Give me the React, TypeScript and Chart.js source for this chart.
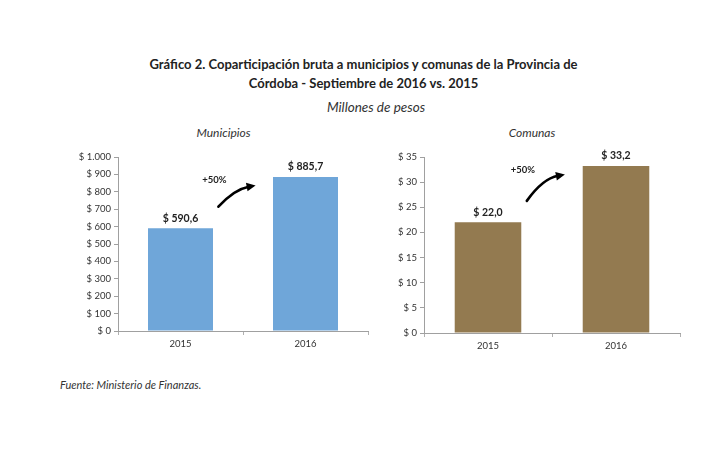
import React, { useEffect, useRef } from "react";
import { Chart, registerables } from "chart.js";

Chart.register(...registerables);

const categories = ["2015", "2016"];
const municipiosValues = [590.6, 885.7];
const comunasValues = [22.0, 33.2];
const municipiosMax = 1000;
const municipiosStep = 100;
const comunasMax = 35;
const comunasStep = 5;
const growthLabel = "+50%";
const titleLine1 = "Gráfico 2. Coparticipación bruta a municipios y comunas de la Provincia de";
const titleLine2 = "Córdoba - Septiembre de 2016 vs. 2015";
const subtitle = "Millones de pesos";
const municipiosTitle = "Municipios";
const comunasTitle = "Comunas";
const source = "Fuente: Ministerio de Finanzas.";

const FONT = "Lato, 'Open Sans', sans-serif";

function fmtThousands(n: number): string {
  const s = Math.round(n).toString();
  return s.replace(/\B(?=(\d{3})+(?!\d))/g, ".");
}
function fmtValue(n: number): string {
  return "$ " + n.toFixed(1).replace(".", ",");
}

const annotPlugin = {
  id: "annot",
  afterDatasetsDraw(chart: any) {
    const ctx = chart.ctx;
    const meta = chart.getDatasetMeta(0);
    const data = chart.data.datasets[0].data as number[];
    ctx.save();
    ctx.fillStyle = "#222";
    ctx.font = `bold 10.5px ${FONT}`;
    ctx.textAlign = "center";
    ctx.textBaseline = "middle";
    meta.data.forEach((bar: any, i: number) => {
      ctx.fillText(fmtValue(data[i]), bar.x, bar.y - 10);
    });
    const b1 = meta.data[0];
    const b2 = meta.data[1];
    const r1 = b1.x + b1.width / 2;
    const l2 = b2.x - b2.width / 2;
    const gap = l2 - r1;
    const sx = r1 + gap * 0.09;
    const sy = b1.y - 21.5;
    const tx = l2 - gap * 0.29;
    const ty = b2.y + 8.5;
    const cx = sx + (tx - sx) * 0.42;
    const cy = ty + 4;
    const ang = Math.atan2(ty - cy, tx - cx);
    const hl = 10;
    const bx = tx - hl * 0.7 * Math.cos(ang);
    const by = ty - hl * 0.7 * Math.sin(ang);
    ctx.strokeStyle = "#000";
    ctx.lineWidth = 2.6;
    ctx.lineCap = "round";
    ctx.beginPath();
    ctx.moveTo(sx, sy);
    ctx.quadraticCurveTo(cx, cy, bx, by);
    ctx.stroke();
    ctx.fillStyle = "#000";
    ctx.beginPath();
    ctx.moveTo(tx, ty);
    ctx.lineTo(tx - hl * Math.cos(ang - 0.45), ty - hl * Math.sin(ang - 0.45));
    ctx.lineTo(tx - hl * Math.cos(ang + 0.45), ty - hl * Math.sin(ang + 0.45));
    ctx.closePath();
    ctx.fill();
    ctx.font = `bold 9.5px ${FONT}`;
    ctx.fillStyle = "#222";
    ctx.textBaseline = "middle";
    ctx.fillText(growthLabel, sx - 4, ty - 5);
    ctx.restore();
  },
};

function makeConfig(values: number[], max: number, step: number, color: string, thousands: boolean): any {
  return {
    type: "bar",
    data: {
      labels: categories,
      datasets: [
        {
          data: values,
          backgroundColor: color,
          borderWidth: 0,
          barPercentage: 1,
          categoryPercentage: 0.52,
        },
      ],
    },
    options: {
      animation: false,
      responsive: false,
      maintainAspectRatio: false,
      layout: { padding: { top: 16, right: 5, left: 0, bottom: 0 } },
      plugins: { legend: { display: false }, tooltip: { enabled: false }, title: { display: false } },
      scales: {
        x: {
          grid: { display: true, drawOnChartArea: false, drawTicks: true, tickLength: 4, color: "#b0b0b0", offset: true },
          border: { color: "#a0a0a0" },
          ticks: { color: "#333", font: { family: FONT, size: 9.5 }, padding: 3 },
          afterFit: (s: any) => {
            s.height = 20;
          },
        },
        y: {
          min: 0,
          max: max,
          grid: { display: true, drawOnChartArea: false, drawTicks: true, tickLength: 4, color: "#a0a0a0" },
          border: { color: "#a0a0a0" },
          ticks: {
            stepSize: step,
            color: "#333",
            font: { family: FONT, size: 9.5 },
            padding: 3,
            callback: (v: number) => "$ " + (thousands ? fmtThousands(v) : String(v)),
          },
          afterFit: (s: any) => {
            s.width = 45;
          },
        },
      },
    },
    plugins: [annotPlugin],
  };
}

function BarChart(props: { values: number[]; max: number; step: number; color: string; thousands: boolean; width: number; height: number }) {
  const ref = useRef<HTMLCanvasElement | null>(null);
  useEffect(() => {
    if (!ref.current) return;
    const chart = new Chart(ref.current, makeConfig(props.values, props.max, props.step, props.color, props.thousands));
    return () => chart.destroy();
  }, []);
  return <canvas ref={ref} width={props.width} height={props.height} style={{ width: props.width, height: props.height, display: "block" }} />;
}

export default function App() {
  const abs = (l: number, t: number, extra: any = {}) => ({ position: "absolute" as const, left: l, top: t, ...extra });
  return (
    <div style={{ position: "fixed", left: 0, top: 0, width: 709, height: 470, background: "#fff", fontFamily: FONT, color: "#222" }}>
      <div style={abs(9, 55, { width: 709, textAlign: "center", fontWeight: "bold", fontSize: 13, lineHeight: "19px" })}>
        <div>{titleLine1}</div>
        <div>{titleLine2}</div>
      </div>
      <div style={abs(176, 99, { width: 400, textAlign: "center", fontStyle: "italic", fontSize: 13.5, color: "#333" })}>{subtitle}</div>
      <div style={abs(123.5, 125, { width: 200, textAlign: "center", fontStyle: "italic", fontSize: 12, color: "#333" })}>{municipiosTitle}</div>
      <div style={abs(432, 125, { width: 200, textAlign: "center", fontStyle: "italic", fontSize: 12, color: "#333" })}>{comunasTitle}</div>
      <div style={abs(73, 141)}>
        <BarChart values={municipiosValues} max={municipiosMax} step={municipiosStep} color="#6fa6d9" thousands={true} width={300} height={210} />
      </div>
      <div style={abs(379, 141)}>
        <BarChart values={comunasValues} max={comunasMax} step={comunasStep} color="#937a50" thousands={false} width={306} height={212} />
      </div>
      <div style={abs(60, 378, { fontStyle: "italic", fontSize: 11, color: "#333" })}>{source}</div>
    </div>
  );
}
